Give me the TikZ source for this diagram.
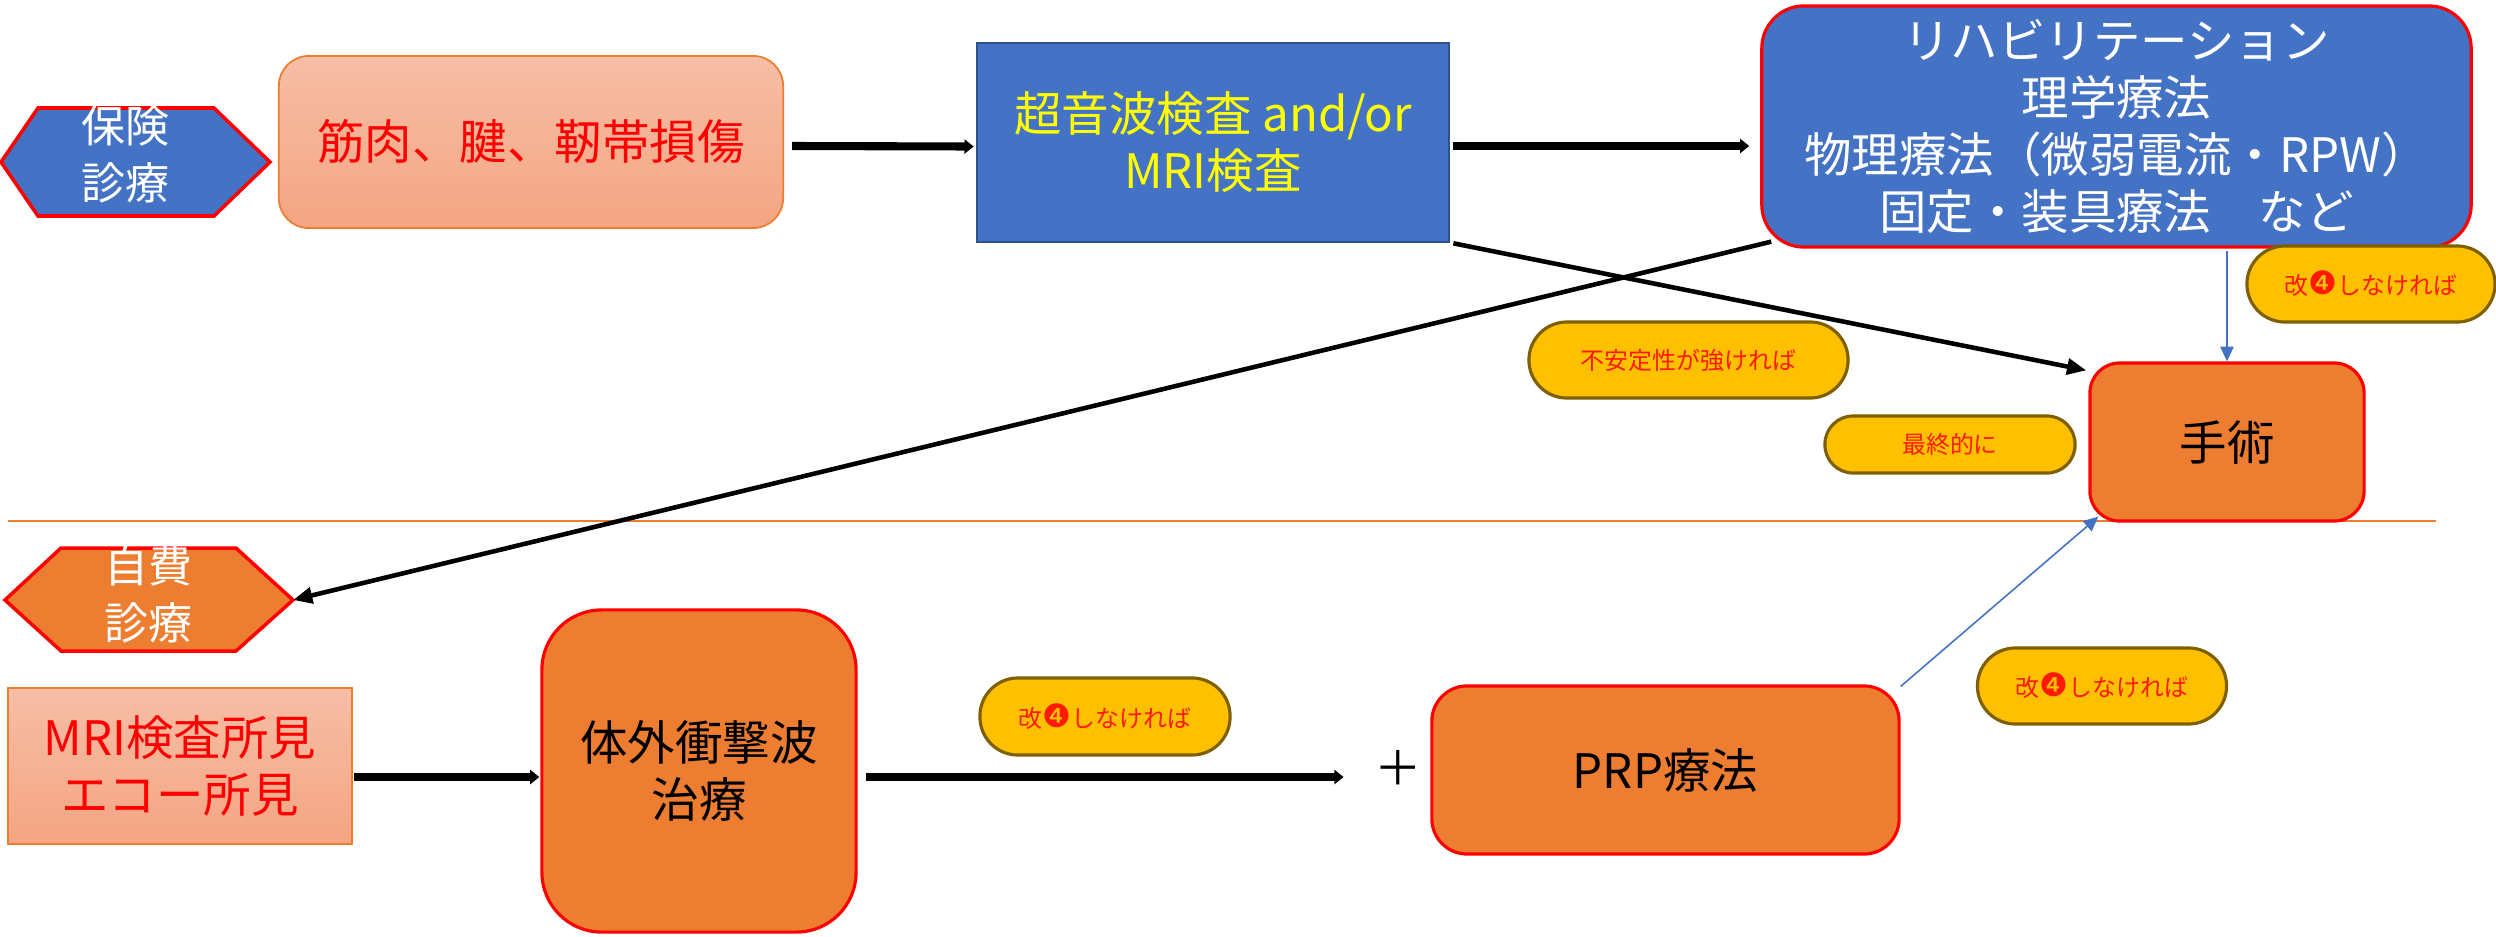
\documentclass[tikz,border=0pt]{standalone}
\usepackage{fontspec}
\setmainfont{Noto Sans CJK JP}
\newfontfamily\djv[Scale=1.35]{DejaVu Sans}
\usetikzlibrary{arrows.meta,calc}
\definecolor{pblue}{HTML}{4472C4}
\definecolor{dblue}{HTML}{2F528F}
\definecolor{porange}{HTML}{ED7D31}
\definecolor{salmontop}{HTML}{F6BEA6}
\definecolor{salmonbot}{HTML}{F4A582}
\definecolor{pillfill}{HTML}{FFC000}
\definecolor{pillline}{HTML}{7F6000}
\definecolor{ytext}{HTML}{FFFF00}
\definecolor{pilltext}{HTML}{FF1A00}
\begin{document}
\begin{tikzpicture}[x=0.01cm,y=-0.01cm,
  big/.style={font=\fontsize{13.5}{16.2}\selectfont, align=center, inner sep=0pt},
  hextext/.style={font=\fontsize{12.5}{16.2}\selectfont, align=center, inner sep=0pt, text=white},
  small/.style={font=\fontsize{6.8}{8}\selectfont, text=pilltext, inner sep=0pt},
  salmonbox/.style={draw=porange, line width=0.5pt, top color=salmontop, bottom color=salmonbot},
  orangebox/.style={draw=red, line width=0.9pt, fill=porange, rounded corners=#1},
  pill/.style={draw=pillline, line width=0.9pt, fill=pillfill, rounded corners=#1, small},
  hexred/.style={draw=red, line width=1pt, line join=miter},
  thickarrow/.style={line width=2.3pt, -{Triangle[length=2.6pt,width=4pt]}},
  diagarrow/.style={line width=1.3pt, -{Triangle[length=5.5pt,width=4.5pt]}},
  bluearrow/.style={draw=pblue, line width=0.45pt, -{Triangle[length=4.2pt,width=3.8pt]}},
]
\useasboundingbox (0,0) rectangle (2496,936);

% separator line
\coordinate (sepL) at (8,521);
\coordinate (sepR) at (2436,521);
\draw[porange, line width=0.45pt] (sepL) -- (sepR);

% hexagon: insurance
\coordinate (h1w) at (1,162);
\coordinate (h1e) at (270,162);
\fill[pblue] (h1w) -- (38,108) -- (214,108) -- (h1e) -- (214,216) -- (38,216) -- cycle;
\draw[hexred] (h1w) -- (38,108) -- (214,108) -- (h1e) -- (214,216) -- (38,216) -- cycle;
\node[hextext] (hoken) at (125,154) {保険\\診療};

% hexagon: self-pay
\coordinate (h2w) at (5,600);
\coordinate (h2e) at (293,600);
\fill[porange] (h2w) -- (61,548) -- (236,548) -- (h2e) -- (236,651) -- (61,651) -- cycle;
\draw[hexred] (h2w) -- (61,548) -- (236,548) -- (h2e) -- (236,651) -- (61,651) -- cycle;
\node[hextext] (jihi) at (148,594) {自費\\診療};

% top row
\node[salmonbox, rounded corners=8.5pt, minimum width=5.04cm, minimum height=1.72cm, big, text=red]
  (b1) at (531,142) {筋肉、腱、靭帯損傷};
\node[draw=dblue, line width=0.7pt, fill=pblue, minimum width=4.72cm, minimum height=1.99cm, big, text=ytext]
  (b2) at (1213,142.5) {超音波検査 and/or\\MRI検査};
\node[draw=red, line width=0.9pt, fill=pblue, rounded corners=12pt, minimum width=7.09cm, minimum height=2.41cm, big, text=white]
  (reh) at (2116.5,126.5) {リハビリテーション\\理学療法\\物理療法（微弱電流・RPW）\\固定・装具療法　など};

% surgery
\node[orangebox=8.5pt, minimum width=2.74cm, minimum height=1.58cm, big]
  (surg) at (2227,442) {手術};

% pills
\node[pill=10.8pt, minimum width=2.48cm, minimum height=0.76cm] (p1) at (2371,284) {改{\djv ❹}しなければ};
\node[pill=10.8pt, minimum width=3.19cm, minimum height=0.76cm] (p2) at (1688.5,360) {不安定性が強ければ};
\node[pill=8pt, minimum width=2.50cm, minimum height=0.57cm] (p3) at (1950,444.5) {最終的に};
\node[pill=10.8pt, minimum width=2.50cm, minimum height=0.77cm] (p4) at (1105,716.5) {改{\djv ❹}しなければ};
\node[pill=10.8pt, minimum width=2.49cm, minimum height=0.76cm] (p5) at (2102,686) {改{\djv ❹}しなければ};

% bottom row
\node[salmonbox, line width=0.7pt, minimum width=3.44cm, minimum height=1.56cm, big, text=red]
  (mri) at (180,766) {MRI検査所見\\エコー所見};
\node[orangebox=17pt, minimum width=3.14cm, minimum height=3.22cm, big]
  (tai) at (699,771) {体外衝撃波\\治療};
\node[big] (plus) at (1398,768) {＋};
\node[orangebox=10pt, minimum width=4.67cm, minimum height=1.68cm, big]
  (prp) at (1665.5,770) {PRP療法};

% connectors
\draw[thickarrow] ($(b1.east)+(8,4)$) -- ($(b2.west)+(-2,4)$);
\draw[thickarrow] ($(b2.east)+(3,3.5)$) -- ($(reh.west)+(-11,19.5)$);
\draw[diagarrow] ($(b2.south east)+(3,0)$) -- ($(surg.north west)+(-2,9)$);
\draw[diagarrow] ($(reh.south west)+(11,-7)$) -- (h2e);
\draw[bluearrow] ($(surg.north)+(0,-110)$) -- (surg.north);
\draw[bluearrow] ($(prp.north east)+(0,2)$) -- ($(surg.south west)+(10,-6)$);
\draw[thickarrow] ($(mri.east)+(1,11)$) -- ($(tai.west)+(-1,6)$);
\draw[thickarrow] ($(tai.east)+(8,6)$) -- ($(plus.west)+(-30,9)$);
\end{tikzpicture}
\end{document}
